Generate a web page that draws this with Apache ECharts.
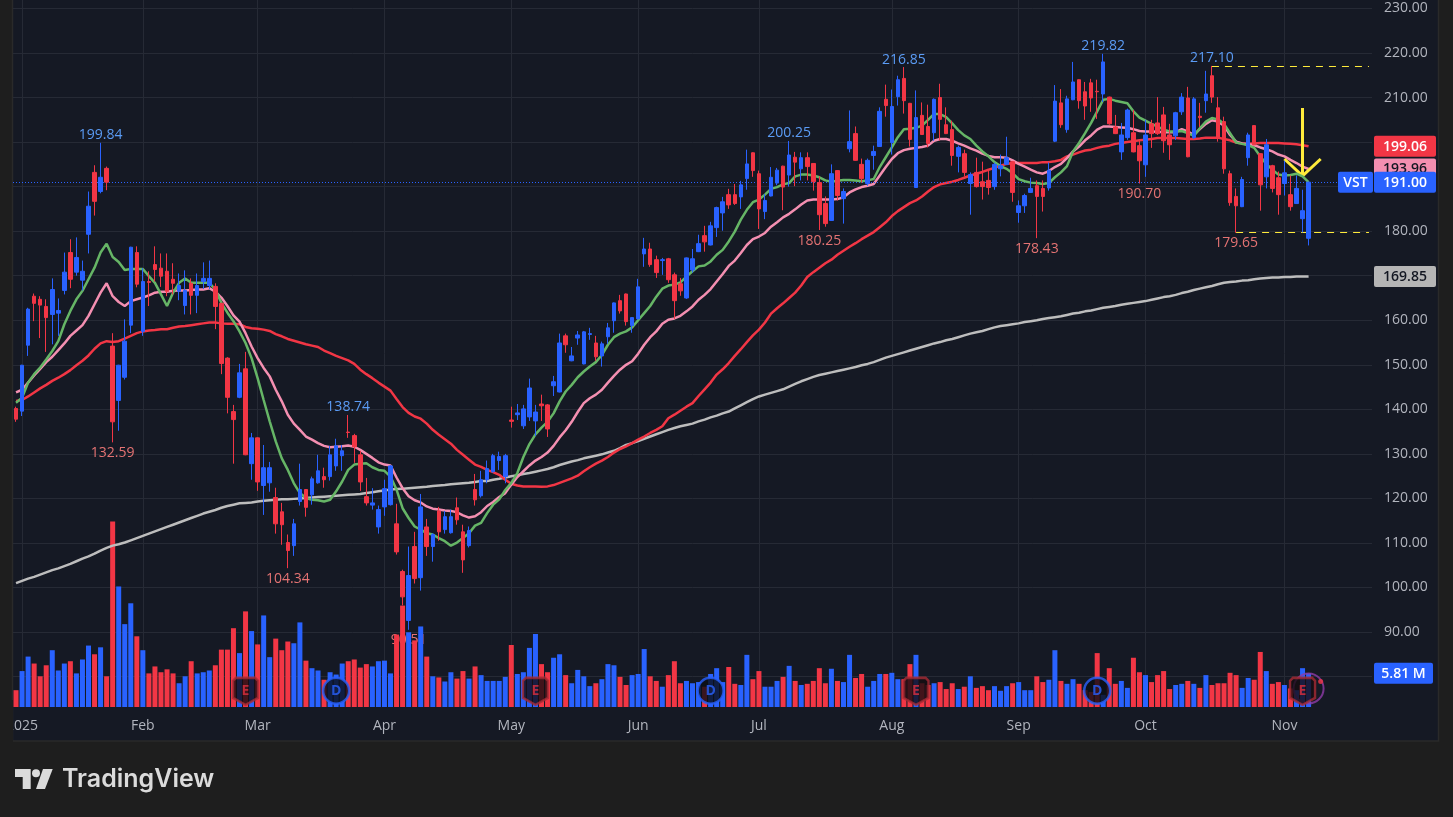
<!DOCTYPE html>
<html>
<head>
<meta charset="utf-8">
<title>VST</title>
<script src="https://cdn.jsdelivr.net/npm/echarts@6/dist/echarts.min.js"></script>
<style>
  html, body { margin: 0; padding: 0; background: #1e1e1e; }
  #chart { width: 1453px; height: 817px; }
</style>
</head>
<body>
<div id="chart"></div>
<script>
// daily bars, ten per row
const opens = [
  140.2,139.6,154.4,165.4,164.7,163.1,161.3,161.6,166.7,175.2,
  170.8,169,179.3,193.2,188.9,194.1,154.2,142,147.2,158.9,
  175.2,157.5,168.7,172.5,171.7,171,169.2,166.5,163.3,168.3,
  165.6,168.7,167.8,167.6,163.8,151.5,139.5,142.7,149.1,127.8,
  133.6,122.9,123.5,120.2,117,110.1,109.4,119.3,122,120.8,
  123.5,124.9,124.9,127.3,129.6,134.9,134.1,129.8,120.4,118.5,
  113.6,118.1,118.6,114.3,103.6,92.6,109.2,102.2,113.6,109.2,
  117.2,113,112.3,117.9,112.5,109.4,122,120.6,124.2,126,
  128.5,124.9,137.6,138.8,136.3,138.3,137.4,141.2,141,145.3,
  143.9,156.5,150.9,156,150.2,156.8,154.9,152,156.3,159.9,
  164.4,165.9,158.8,160.3,174.9,176,173.6,173.4,173.8,170.2,
  168.2,165,171.3,175.4,179,176.9,180.8,184.1,188.2,188.2,
  187.7,191.8,197.6,192.9,184.4,187.9,190.8,194.6,192.6,196.6,
  194,196.5,195.2,190.9,186.2,182.4,193.6,187.3,198.5,201.9,
  195,190.7,197,199,209.6,199.9,210.2,214.3,208.7,189.8,
  206,203.5,202.1,210,203.9,202.8,196.8,197.4,190.7,193.2,
  191.1,191.4,190,194,195,195.6,184.2,185.7,188.7,190.2,
  189.6,189.7,200.2,208.8,202.8,209.5,214,211.3,213.3,211.4,
  210.8,210.1,203.4,197.8,201,202.1,199.2,194.9,204.1,204.3,
  206.1,201.6,201.4,206.8,209.9,201,205.8,209.3,214.9,207.7,
  204.6,192.9,187.8,185.5,196.5,203.7,197.4,192.2,194.7,192,
  190.7,188.2,186.2,182.8,178.4
]
const closes = [
  137.8,149.9,162.5,163.8,163.4,160.6,166.9,162.2,170.8,169.2,
  174.1,171,185.6,186.7,192.1,191,137.2,149.9,155.3,176.4,
  168.1,168.7,168.5,171.4,169.9,166.5,168.3,167.8,166.7,165.6,
  167.8,169.4,169.4,163.1,150.3,142.7,137.7,148.2,129.8,133.6,
  123.7,126.9,126.9,114.3,114.1,108.3,114.3,122,118,124.4,
  126.2,124.2,129.8,131.8,130.7,134.8,131.6,123.7,119,119,
  117.5,122.2,127.3,108,97.9,102.7,102,118.1,109.2,111.9,
  112.5,115.9,115.9,115.2,106.2,112.8,119.7,124.2,126.7,129.6,
  129.4,129.6,137.3,139.2,140.1,144.8,139.4,140.8,135.6,146.2,
  154.9,154.5,152,156.7,157.4,157,151.8,154.7,158.3,163.9,
  162.1,159.7,160.6,167.5,176,172.5,170.7,173.6,169.1,164.4,
  166.6,174,173.8,177.2,177.6,181.2,185.3,186.6,185.9,186.2,
  190.4,195.1,193.6,185,186.9,192.1,193.7,189.9,197.1,195.5,
  196.5,194.5,191.1,183.7,181.7,192.9,188,188.9,200.1,195.9,
  191.8,195.9,197.9,206.9,208.2,208,214,209.3,200.6,205.5,
  201.7,199.7,209.6,205.1,201.9,197,198.8,193.2,192.7,190,
  190,189.8,195,194.7,196.5,188.7,185.7,188,189.6,187.8,
  187.8,193.7,209.2,203.9,209.7,213.5,209.3,208.1,209.9,211.3,
  218,204.1,201.9,201.6,207.2,197.8,195.8,201.6,201.9,201.9,
  200.3,199.4,206.6,210.1,196.7,209.7,205.5,210.8,210.1,201,
  194,186.4,185.7,191.6,201.6,199.4,190.4,199.4,189.6,188.2,
  193.1,185.5,189.6,184.6,191
]
const lows = [
  137.2,138.5,152,159.8,156,152.9,154.6,156.5,165.8,167.2,
  170,166.7,175,183.5,188.5,189.2,132.59,135.2,146.7,157.1,
  167.4,156.5,163.2,168.7,167.5,165.4,165.8,164.5,161.3,161.3,
  161.6,167,167,158,147.9,139.1,127.8,142.5,129.7,124.2,
  121.7,116.3,121.5,112.1,109.6,104.34,107.1,118.4,115.9,118.6,
  123.3,122.4,124,126.2,126.2,133.6,128,121.7,118.4,117.5,
  112.1,116.1,118.4,107.4,96,90.51,100.9,99.3,107.1,105.8,
  110.5,112.1,112.1,114.1,103.3,109,118.4,120.2,123.4,125.8,
  126.4,123.4,135.9,137.6,135.6,137.4,134,137.4,133.8,143,
  143.8,152.7,150.8,154.5,150.1,155.6,150.9,149.6,154.7,157.2,
  161.5,158.8,157.2,160.2,172,172,169.5,170.2,168.4,160.3,
  165.5,164.8,170.7,175.3,175.4,176.8,178.7,180.1,185,185.9,
  185,189.3,192.2,180.5,182.7,187.8,190.3,184.7,190,190.1,
  191.4,191.4,189.1,180.25,181,182.3,186.9,181.7,197.7,195.8,
  190.9,190.2,193.8,198.9,205.7,197.2,208.2,206.4,199,189.7,
  201.6,198.8,200.3,200.3,201.8,194.7,193.2,192.3,183.7,189.8,
  187.1,188.2,189.3,192.3,194.9,186.6,181.9,184.1,188.6,178.43,
  184.4,189.1,200,203.2,202.1,209.4,207.5,205,206.8,205.2,
  209,203.9,201.8,196,200.5,197.7,190.7,192.2,198.7,201.6,
  197.6,196,200.5,206.1,196.6,200.7,203.4,206.6,208.8,200.1,
  192.9,185.7,179.65,185.4,194.7,199.3,184.6,189.6,188.7,183.7,
  188,184.6,186.1,179.7,176.8
]
const highs = [
  140.6,150,162.8,166,165.4,164.7,169.4,164.9,175.2,178.2,
  178.6,173.4,188.9,194.8,199.84,194.5,157.1,150,160.2,176.5,
  176.6,171.7,171,176.6,175,175,172.8,170.5,171.2,169.4,
  170.5,173,173.4,168.3,163.9,151.7,141,150.2,152.9,134.7,
  133.7,132,128.2,122.4,119,111.9,115.4,127.8,122.1,124.9,
  129.8,126.9,131.8,133.4,132,138.74,134.5,130.7,124.6,122.3,
  118.4,124.2,127.5,118.8,104,109.2,112.5,121,115.4,112.2,
  118.1,117.2,117.5,120.2,114.1,113.7,125.5,126.2,128.5,130,
  130.5,130,140.6,141.2,141,146.9,141,143.3,141.2,147.5,
  157,157,154,157.6,157.6,158.3,156.5,155.2,159.4,164,
  165.7,166,160.7,169.3,178.5,177.4,174.5,174,174,170.7,
  169.5,174.1,176,179.2,181.2,182.1,185.5,187.7,189.5,190.6,
  191.3,198.3,197.7,193.6,188.3,194.4,194.2,194.7,200.25,197.8,
  197.7,197.7,195.3,192.3,187.8,195,193.7,189.6,207.1,203.5,
  196.3,196.3,199.2,207.8,212.9,211.8,214.9,216.85,208.8,211.6,
  208.9,208.4,209.8,213.1,207.8,204.8,199.2,198.3,193.2,196.5,
  195.6,193.6,195.4,197.2,201.2,195.7,186.9,188.4,192,191.4,
  191.4,195.4,212.8,211.9,210.4,218,214.1,213.5,214.2,214,
  219.82,210.2,206.1,204.3,207.5,207.2,200.5,205,205,210.1,
  207.9,204.1,206.8,211,212.4,210.1,208.8,216,217.1,210.1,
  205.7,193.6,189.6,192.2,202.1,203.8,197.5,200.7,194.9,193.4,
  195.8,192.5,192.5,189.3,191.1
]
// volume, millions
const volumes = [
  2.9,6.2,8.7,7.5,5.3,7.2,9.8,6.3,7.5,7.9,
  5.8,8.2,10.6,9.1,10.3,5.3,32,20.8,14.3,17.9,
  12.2,9.8,5.8,7,6,6.5,5.8,4.1,5.3,7.9,
  5.8,6,6.3,7.2,9.9,9.9,13.6,9.3,16.5,13.1,
  10.8,15.8,8.6,11.8,9.8,11.3,11,14.6,8,6.7,
  6.3,4.7,6,5.6,7.5,7.9,8.2,6.8,7.4,7,
  7.9,8,5.8,12.5,17.5,12.9,11.5,13.9,8.7,5.3,
  5.1,4.4,6,4.9,6.2,4.9,7,5.5,4.5,4.5,
  4.5,5.2,10.7,5.7,6,10.2,12.6,7.4,6,8.5,
  9.1,5.5,4.1,6.4,5.3,3.6,4.1,4.8,7.4,7.2,
  5.2,3.8,5.5,5.7,10,5.3,4.5,3.5,5.5,7.9,
  4.1,4.5,4.1,4.3,3.5,5.7,6.7,4.3,6.9,4,
  3.8,9,4.8,6.2,3.5,3.5,4.5,5.2,7.1,4.5,
  3.8,4,4.5,6.7,4.1,6.6,4.5,4.3,9,5,
  5.7,3.5,4.5,5.7,5.7,5.9,4.8,4.8,7.4,9,
  4.1,3.8,4.1,4.3,3.1,4.1,3.1,3.5,5.3,3.3,
  3.6,2.9,3.6,2.8,3.6,4.1,4.3,2.9,2.9,5.3,
  4.3,4.7,9.8,4.5,4,4.8,4,2.9,2.6,9.3,
  2.1,6.7,4,4.5,3.3,8.5,6,5.5,4.3,5.5,
  6.2,3.1,3.8,4,4.5,4,3.3,5.5,3.8,4.1,
  4.1,5.9,5.5,3.3,5,4.7,9.5,6.2,4,4.3,
  3.8,3.2,2.9,6.7,5.81
]
const maFast = [
  141.5,142.6,146,147.9,149.4,151.2,153.1,155.3,159.1,162.1,
  164.7,166.6,169.2,171.8,175.2,177.2,174.2,173.1,171.3,171.5,
  171.5,171.5,169.9,168.4,165.8,163.2,166.2,168.4,169.4,168.4,
  168.4,168.4,168.4,166.9,163.9,161.7,159.8,157.5,154.9,151.5,
  147,142.1,137.3,132.8,129,126.4,123.4,121.2,120.1,119.7,
  119.6,119.3,119.7,121.6,123.8,126.4,127.6,127.8,127.9,127,
  126.4,126.2,124.9,122,117.8,115.6,113.7,113,112.2,111.9,
  111.1,110.4,109.4,110.1,111.1,112.2,113.9,114.5,116.7,118.6,
  119.8,121.9,123.5,125.7,129.3,132.2,134.4,135.9,137.2,139.1,
  141.8,144,145.5,147.2,148.5,149.6,150.6,152.2,154.5,156.2,
  157,157.5,158.4,160,161.6,163.2,165.3,167.1,167.8,168,
  168.5,169.8,171,172.1,172.3,173.2,174.7,175.8,177.7,179.9,
  182.6,184.8,186.5,187.1,188.2,189.5,189.9,190.5,190.8,192.3,
  192.7,192.7,192.5,192.1,191.4,191.1,191.3,191.5,191.5,191.4,
  191.2,191.4,191.7,194.4,196.6,198.8,201.1,202.9,203,203.2,
  203.7,205,206.3,206.3,205.6,204.2,202.7,201.5,200.7,199.2,
  197.9,196.8,195.5,194.6,194,193,191.7,191.2,190.9,190.8,
  190.6,190.8,192.1,193.2,194.6,197.9,199.8,202,204.3,206.9,
  209.5,209.7,209.3,209,208.7,206.9,205.5,204.8,204.1,203.5,
  202.8,202.4,202.4,202.5,202,201.4,203.1,204.6,205.4,205.1,
  204.1,202,199.9,199.6,199.3,198.7,196.8,195.1,193.8,192.7,
  192.5,192.6,192.9,192.3,191
]
const maMid = [
  143.8,144.4,146,147.6,149.1,150.6,151.8,153.3,154.8,156.5,
  157.7,158.9,161,163.6,166.2,168.3,165.4,164.1,163.2,164.3,
  164.7,165.1,165.6,166.2,166.4,166.4,166.6,166.7,166.7,166.8,
  166.9,166.9,167.2,166.4,165.1,163.2,161.1,159.7,157.1,154.1,
  151.5,149.3,147.4,144.4,141.8,138.8,136.8,135.4,133.9,133.2,
  132.4,131.8,131.5,131.6,131.7,131.9,131.6,130.9,130,129.1,
  128.1,127.6,127.4,124.7,122.3,120.5,119.6,119.1,118.2,117.7,
  117.5,117.3,117.2,116.9,116.2,115.7,116,116.9,118.3,119.2,
  120.3,121.2,123.1,124.8,126.1,127.4,128.5,129.3,130.3,131.8,
  133.7,135.3,137.2,139.4,141.4,142.5,143.3,144.4,146,147.5,
  148.9,150,150.8,152.5,154.5,156.2,157.5,159.2,160.1,160.4,
  161,162,163.1,164.6,165.7,167,168.7,170.4,172.2,173.4,
  175.1,176.9,178.2,178.8,179.6,181,182,183.1,183.9,184.9,
  186,186.9,187.1,187.1,187.1,187.1,187.2,187.6,188.7,189.4,
  189.9,190.2,190.6,192.5,194.4,196.2,197.5,198.2,198.5,198.7,
  198.9,199.2,200.3,200.7,200.7,200.3,199.7,199.2,198.6,198.1,
  197.4,196.9,196.6,196.6,196.5,195.9,195.1,194.5,193.8,193.2,
  192.9,193.5,194.4,195.1,196.4,197.9,199,200.4,201.5,202.8,
  203.5,203.5,203.4,203.3,203.2,202.9,202.5,202.4,202.4,202.3,
  202.2,202.2,202.2,202.9,202.4,201.6,202.9,204.1,204.9,204.6,
  203.7,201.6,200.1,199.7,199.5,199.3,198.8,198.4,197.9,197.2,
  196.8,196,195.3,194.5,193.96
]
const maSlow = [
  141.9,142.1,142.9,143.8,144.7,145.5,146.4,147.1,147.9,148.8,
  149.9,150.9,152.1,153.6,154.8,155.3,155.1,155.3,155.9,156.5,
  157.1,157.5,157.7,157.8,158,158,158.3,158.6,158.7,158.9,
  159.1,159.3,159.5,159.5,159.3,159.2,159.2,159.1,158.5,158.2,
  158.1,157.9,157.6,156.9,156.4,155.8,155.4,155,154.6,154.3,
  154,153.2,152.6,152,151.5,151,150.2,148.9,147.9,147,
  146,145.1,144.2,142.3,140.5,139.2,138.4,137.9,136.8,135.4,
  134.3,133.3,132.3,130.9,129.8,128.7,127.6,127.1,126.4,125.9,
  125.3,124.2,123.3,122.9,122.7,122.7,122.7,122.6,122.7,123,
  123.5,124,124.5,125.1,126.1,127,127.8,128.5,129.3,130.3,
  131.1,131.7,132.4,133.2,133.9,134.7,135.4,136.2,138,138.8,
  139.7,140.6,141.4,143,144.5,146,147.8,149,150.4,152,
  153.5,155.1,156.6,157.9,159.5,161.5,162.7,163.8,165,166.2,
  167.8,169.7,170.8,171.8,172.8,173.6,174.7,175.6,176.5,177.3,
  178.2,179,179.8,180.9,182,183.4,184.5,185.4,186.3,186.9,
  187.8,188.9,189.9,190.5,190.8,191.1,191.5,192,192.5,192.9,
  193.3,193.8,194.2,194.7,195.1,195.3,195.3,195.3,195.3,195.3,
  195.5,195.5,195.7,196,196.8,197.2,197.7,198.1,198.3,198.7,
  199,199.2,199.6,199.8,200,200.2,200.4,200.5,200.7,200.9,
  200.9,200.9,200.9,200.8,200.7,200.7,200.8,201,201,201,
  200.7,200.4,199.9,199.7,199.6,199.7,199.8,199.8,199.8,199.8,
  199.7,199.6,199.5,199.3,199.06
]
const maLong = [
  101,101.5,102,102.4,102.9,103.4,103.9,104.3,104.8,105.3,
  105.9,106.5,107,107.6,108.3,108.9,109.4,109.7,110.1,110.6,
  111.1,111.6,112.1,112.6,113.1,113.6,114.1,114.6,115.1,115.6,
  116.1,116.6,117,117.4,117.9,118.3,118.6,118.9,119,119.1,
  119.3,119.5,119.6,119.7,119.8,119.8,119.9,120,120.1,120.2,
  120.3,120.4,120.5,120.6,120.7,120.8,120.9,121,121.2,121.4,
  121.6,121.8,122,122.1,122.2,122.3,122.4,122.5,122.6,122.8,
  122.9,123,123.2,123.3,123.4,123.5,123.7,123.9,123.9,124.2,
  124.4,124.7,125,125.2,125.5,125.7,126,126.3,126.6,127,
  127.5,127.9,128.3,128.6,129,129.3,129.6,129.9,130.3,130.7,
  131.3,132,132.4,132.9,133.4,133.9,134.4,134.9,135.4,135.8,
  136.2,136.5,136.8,137.3,137.7,138.2,138.6,139.1,139.5,140.2,
  140.9,141.6,142.3,142.9,143.3,143.7,144.1,144.5,145.1,145.7,
  146.3,146.8,147.3,147.7,148,148.3,148.6,148.9,149.2,149.5,
  149.9,150.2,150.6,151.1,151.6,152,152.4,152.8,153.2,153.6,
  154,154.4,154.8,155.1,155.5,155.8,156.2,156.6,157,157.3,
  157.6,158,158.4,158.7,158.9,159.1,159.3,159.6,159.8,160,
  160.3,160.5,160.7,160.9,161.2,161.5,161.7,162,162.2,162.5,
  162.8,163,163.2,163.5,163.7,163.9,164.1,164.3,164.6,164.9,
  165.2,165.4,165.7,166.1,166.4,166.8,167.1,167.4,167.7,168.1,
  168.4,168.6,168.7,168.9,169,169.2,169.4,169.5,169.6,169.6,
  169.7,169.7,169.8,169.8,169.85
]

const tickSlots = [1, 21, 40, 61, 82, 103, 123, 145, 166, 187, 210]
const tickLabels = ['2025', 'Feb', 'Mar', 'Apr', 'May', 'Jun', 'Jul', 'Aug', 'Sep', 'Oct', 'Nov']
const highMarks = [14, 55, 128, 147, 180, 198]
const lowMarks = [16, 45, 65, 133, 169, 186, 202]
const earningsSlots = [38, 86, 149, 213]
const dividendSlots = [53, 115, 179]

const blue = '#2962ff'
const red = '#f23645'
const pink = '#f48fb1'
const green = '#66b566'
const silver = '#bdbdbd'
const yellow = '#ffeb3b'
const gridColor = '#262a35'
const axisText = '#b2b5be'
const font = 'Open Sans'

// ten empty slots to the right of the last bar
const slots = Array.from({ length: closes.length + 10 }, (_, i) => i)
const lastSlot = slots.length - 1
const last = closes.length - 1
const candles = closes.map((c, i) => [opens[i], c, lows[i], highs[i]])
const volumeBars = volumes.map((v, i) => ({
  value: v,
  itemStyle: { color: closes[i] > opens[i] ? blue : red }
}))

function maLine(data, color, z) {
  return {
    type: 'line', data, z,
    xAxisIndex: 0, yAxisIndex: 0,
    showSymbol: false, symbol: 'none', silent: true,
    lineStyle: { color, width: 2.5 }
  }
}

function peakLabels(marks, values, color, position, offset) {
  return marks.map(i => ({
    coord: [i, values[i]],
    value: values[i],
    label: { color, position, distance: 3, offset }
  }))
}

const chart = echarts.init(document.getElementById('chart'))

chart.setOption({
  animation: false,
  backgroundColor: 'transparent',
  textStyle: { fontFamily: font },
  grid: [
    { left: 13, width: 1359, top: 8.46, height: 668.14 },
    { left: 13, width: 1359, top: 0, height: 707 }
  ],
  xAxis: [
    {
      type: 'category', gridIndex: 0, data: slots, show: false
    },
    {
      type: 'category', gridIndex: 1, data: slots,
      axisLine: { show: false },
      axisTick: { show: false },
      axisLabel: {
        color: axisText, fontSize: 14, margin: 12, fontFamily: font,
        interval: i => tickSlots.includes(i),
        formatter: (v, i) => tickLabels[tickSlots.indexOf(i)] || ''
      },
      splitLine: {
        show: true,
        alignWithLabel: true,
        interval: i => tickSlots.includes(i),
        lineStyle: { color: gridColor, width: 1 }
      }
    }
  ],
  yAxis: [
    {
      type: 'value', gridIndex: 0, position: 'right',
      min: 80, max: 230, interval: 10,
      axisLine: { show: false },
      axisTick: { show: false },
      axisLabel: {
        color: axisText, fontSize: 14, margin: 12, fontFamily: font,
        padding: [2, 0, 0, 0],
        formatter: v => (v === 80 ? '' : v.toFixed(2))
      },
      splitLine: { show: true, lineStyle: { color: gridColor, width: 1 } }
    },
    {
      type: 'value', gridIndex: 1, min: 0, max: 122, show: false,
      splitLine: { show: false }
    }
  ],
  series: [
    {
      type: 'bar', data: volumeBars, xAxisIndex: 1, yAxisIndex: 1,
      barWidth: 5, z: 3, silent: true
    },
    maLine(maLong, silver, 4),
    maLine(maSlow, red, 5),
    maLine(maMid, pink, 6),
    maLine(maFast, green, 7),
    {
      type: 'candlestick', data: candles, xAxisIndex: 0, yAxisIndex: 0,
      barWidth: 4, z: 8, silent: true,
      itemStyle: { color: blue, color0: red, borderColor: blue, borderColor0: red, borderWidth: 1 },
      markLine: {
        silent: true, symbol: 'none', z: 7, animation: false,
        label: { show: false },
        data: [
          { yAxis: closes[last], lineStyle: { color: blue, type: [1, 2], width: 1 } },
          [
            { coord: [198, highs[198]], lineStyle: { color: yellow, type: [7, 6], width: 1 } },
            { coord: [lastSlot, highs[198]] }
          ],
          [
            { coord: [202, lows[202]], lineStyle: { color: yellow, type: [7, 6], width: 1 } },
            { coord: [lastSlot, lows[202]] }
          ],
          [
            { coord: [213, 207.65], lineStyle: { color: yellow, type: 'solid', width: 3 } },
            { coord: [213, 192.4] }
          ],
          [
            { coord: [210, 196.2], lineStyle: { color: yellow, type: 'solid', width: 3 } },
            { coord: [213, 192.4] }
          ],
          [
            { coord: [213, 192.4], lineStyle: { color: yellow, type: 'solid', width: 3 } },
            { coord: [216, 196.2] }
          ]
        ]
      },
      markPoint: {
        silent: true, z: 1, symbol: 'circle', symbolSize: 1,
        itemStyle: { color: 'transparent' },
        label: {
          show: true, fontSize: 14, fontFamily: font,
          formatter: p => p.value.toFixed(2)
        },
        data: [
          ...peakLabels(highMarks, highs, '#5b9cf6', 'top', [0, 3]),
          ...peakLabels(lowMarks, lows, '#e57373', 'bottom', [0, 0])
        ]
      }
    },
    {
      // ring and dot on the latest earnings badge
      type: 'scatter', xAxisIndex: 1, yAxisIndex: 1, z: 9, silent: true,
      symbol: 'circle', symbolSize: 30,
      itemStyle: { color: 'transparent', borderColor: '#8e3ba8', borderWidth: 2 },
      data: [[214, 3.2]]
    },
    {
      type: 'scatter', xAxisIndex: 1, yAxisIndex: 1, z: 10, silent: true,
      symbol: 'path://M3 0 H23 L26 3 V20 L13 27 L0 20 V3 Z', symbolSize: [25, 27],
      itemStyle: { color: '#150d10', borderColor: '#a62a35', borderWidth: 2.5 },
      label: {
        show: true, position: 'inside', formatter: 'E',
        color: '#e0303f', fontSize: 14, fontWeight: 'bold', fontFamily: font
      },
      data: earningsSlots.map(i => [i, 2.7])
    },
    {
      type: 'scatter', xAxisIndex: 1, yAxisIndex: 1, z: 10, silent: true,
      symbol: 'circle', symbolSize: 26,
      itemStyle: { color: '#0a0e15', borderColor: blue, borderWidth: 2.5 },
      label: {
        show: true, position: 'inside', formatter: 'D',
        color: blue, fontSize: 14, fontWeight: 'bold', fontFamily: font
      },
      data: dividendSlots.map(i => [i, 2.8])
    },
    {
      type: 'scatter', xAxisIndex: 1, yAxisIndex: 1, z: 11, silent: true,
      symbol: 'circle', symbolSize: 5,
      itemStyle: { color: red },
      data: [[216, 4.4]]
    }
  ]
})

// price and volume tags on the right edge, placed through the axes
function priceY(v) {
  return chart.convertToPixel({ yAxisIndex: 0 }, v)
}
function tag(x, w, cy, fill, text, color, z) {
  return [
    {
      type: 'rect', z, silent: true,
      shape: { x, y: cy - 10.5, width: w, height: 21, r: 2 },
      style: { fill }
    },
    {
      type: 'text', z: z + 1, silent: true,
      x: x + w / 2, y: cy + 0.5,
      style: {
        text, fill: color, fontSize: 14, fontWeight: 600, fontFamily: font,
        align: 'center', verticalAlign: 'middle'
      }
    }
  ]
}

chart.setOption({
  graphic: [
    // panel behind the chart
    {
      type: 'rect', z: -1, silent: true,
      shape: { x: 12.5, y: -2, width: 1426, height: 743 },
      style: { fill: '#151924', stroke: '#2a2a2a', lineWidth: 1.5 }
    },
    // left strip covers the start of the first tick label
    {
      type: 'rect', z: 50, silent: true,
      shape: { x: 0, y: 700, width: 13, height: 117 },
      style: { fill: '#1e1e1e' }
    },
    ...tag(1374, 62, priceY(maSlow[last]), red, maSlow[last].toFixed(2), '#ffffff', 60),
    ...tag(1374, 62, priceY(maMid[last]), pink, maMid[last].toFixed(2), '#131722', 62),
    ...tag(1374, 62, priceY(maLong[last]), '#b5b5b5', maLong[last].toFixed(2), '#131722', 62),
    ...tag(1374, 62, priceY(closes[last]), blue, closes[last].toFixed(2), '#ffffff', 64),
    ...tag(1338, 35, priceY(closes[last]), blue, 'VST', '#ffffff', 64),
    ...tag(1374, 59, chart.convertToPixel({ yAxisIndex: 1 }, volumes[last]), blue, volumes[last].toFixed(2) + ' M', '#ffffff', 64),
    // TradingView mark
    {
      type: 'polygon', z: 60, silent: true,
      shape: { points: [[15, 769], [30.7, 769], [30.7, 789], [22.7, 789], [22.7, 777], [15, 777]] },
      style: { fill: '#dbdbdb' }
    },
    {
      type: 'circle', z: 60, silent: true,
      shape: { cx: 36, cy: 773.2, r: 4 },
      style: { fill: '#dbdbdb' }
    },
    {
      type: 'polygon', z: 60, silent: true,
      shape: { points: [[43, 769], [52.7, 769], [45, 789], [36, 789]] },
      style: { fill: '#dbdbdb' }
    },
    {
      type: 'text', z: 60, silent: true, x: 62, y: 779,
      style: {
        text: 'TradingView', fill: '#dbdbdb', fontSize: 25, fontWeight: 600,
        fontFamily: 'Inter', align: 'left', verticalAlign: 'middle'
      }
    }
  ]
})
</script>
</body>
</html>
